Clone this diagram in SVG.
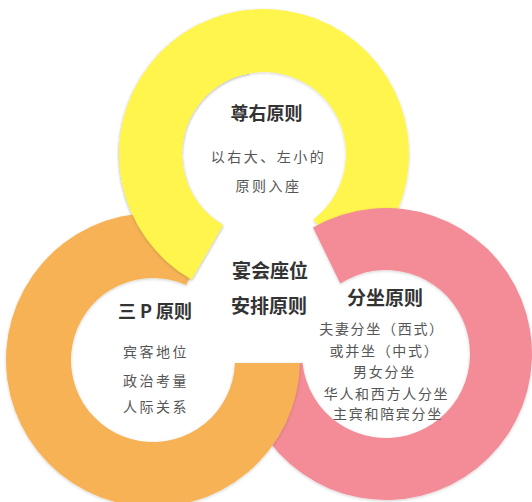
<svg xmlns="http://www.w3.org/2000/svg" xmlns:xlink="http://www.w3.org/1999/xlink" width="532" height="502" viewBox="0 0 532 502">
<defs>
<style>
.t{font-family:"Noto Sans CJK SC","Liberation Sans",sans-serif;text-anchor:middle;font-weight:700;fill:#333;}
.b{font-family:"Noto Sans CJK SC","Liberation Sans",sans-serif;text-anchor:middle;font-size:14px;fill:#555;}
.y{fill:#FFF54E;}
.o{fill:#F6B255;}
.p{fill:#F38C96;}
</style>
<filter id="sh" x="-10%" y="-10%" width="120%" height="120%">
<feDropShadow dx="0" dy="1" stdDeviation="1.5" flood-color="#000" flood-opacity="0.18"/>
</filter>
<clipPath id="tl"><rect x="0" y="0" width="250" height="300"/></clipPath>
<path id="ringY" d="M191.5,279.57 A145,145 0 1 1 351.26,269.8 L313.35,219.49 A82,82 0 1 0 223,225.01 Z"/>
<path id="ringO" d="M299.97,363 A147,147 0 1 1 212.79,225.71 L186.35,285.09 A82,82 0 1 0 234.95,363 Z"/>
<path id="ringP" d="M313,227.56 A146,146 0 1 1 240.8,369.26 L302.46,362.78 A84,84 0 1 0 340.25,283.55 Z"/>
</defs>
<rect width="532" height="502" fill="#fff"/>
<g id="node-yellow">
<use xlink:href="#ringY" class="y" filter="url(#sh)"/>
<text class="t" x="266.5" y="120" font-size="18">尊右原则</text>
<text class="b" x="268.5" y="161.5" letter-spacing="2.5">以右大、左小的</text>
<text class="b" x="268.5" y="190.5" letter-spacing="2.5">原则入座</text>
</g>
<g id="node-pink">
<use xlink:href="#ringP" class="p" filter="url(#sh)"/>
<text class="t" x="385" y="305" font-size="19">分坐原则</text>
<text class="b" x="382" y="333.5" letter-spacing="1.7">夫妻分坐（西式）</text>
<text class="b" x="384.5" y="355.5" letter-spacing="1.7">或并坐（中式）</text>
<text class="b" x="384.5" y="376.5" letter-spacing="1.7">男女分坐</text>
<text class="b" x="386.5" y="398.5" letter-spacing="1.7">华人和西方人分坐</text>
<text class="b" x="388" y="418.5" letter-spacing="1.7">主宾和陪宾分坐</text>
</g>
<g id="node-orange">
<use xlink:href="#ringO" class="o" filter="url(#sh)"/>
<text class="t" x="155" y="318" font-size="18">三 P 原则</text>
<text class="b" x="156" y="356.5" letter-spacing="2.5">宾客地位</text>
<text class="b" x="156" y="385.5" letter-spacing="2.5">政治考量</text>
<text class="b" x="156" y="411.5" letter-spacing="2.5">人际关系</text>
</g>
<g id="overlap-yellow-over-orange" clip-path="url(#tl)">
<use xlink:href="#ringY" class="y" filter="url(#sh)"/>
</g>
<g id="node-center">
<text class="t" x="270" y="278" font-size="19">宴会座位</text>
<text class="t" x="269" y="313" font-size="19">安排原则</text>
</g>
</svg>
